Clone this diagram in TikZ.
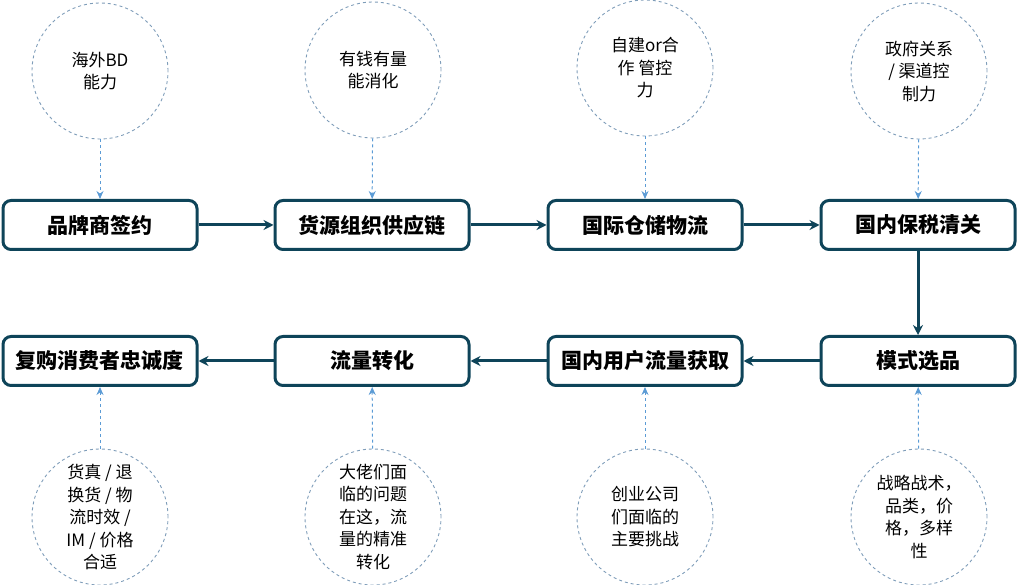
\documentclass[tikz,border=0pt]{standalone}
\usepackage{fontspec}
\setmainfont{Noto Sans CJK SC}
\usetikzlibrary{arrows.meta}
\definecolor{boxcol}{HTML}{0E4459}
\definecolor{circcol}{HTML}{7F9DB9}
\definecolor{dashcol}{HTML}{5B9BD5}
\begin{document}
\begin{tikzpicture}[x=1pt,y=-1pt,
  stepbox/.style={draw=boxcol,line width=3pt,rounded corners=8pt,minimum width=194pt,minimum height=49pt,inner sep=0pt,font=\fontsize{21}{24}\selectfont\bfseries,fill=white},
  idea/.style={draw=circcol,dashed,line width=0.9pt,circle,minimum size=136pt,inner sep=0pt,align=center,font=\fontsize{17}{22.5}\selectfont},
  flow/.style={draw=boxcol,line width=3pt,-{Stealth[length=10pt,width=10pt]}},
  hint/.style={draw=dashcol,dashed,line width=1pt,-{Stealth[length=8pt,width=7pt]}}]
\useasboundingbox (0,0) rectangle (1018,585);
\node[stepbox] (b1) at (100,225) {品牌商签约};
\node[stepbox] (b2) at (372,225) {货源组织供应链};
\node[stepbox] (b3) at (645,225) {国际仓储物流};
\node[stepbox] (b4) at (918,225) {国内保税清关};
\node[stepbox] (b5) at (918,361) {模式选品};
\node[stepbox] (b6) at (645,361) {国内用户流量获取};
\node[stepbox] (b7) at (372,361) {流量转化};
\node[stepbox] (b8) at (100,361) {复购消费者忠诚度};
\node[idea] (c1) at (100,71) {海外BD\\能力};
\node[idea] (c2) at (373,70) {有钱有量\\能消化};
\node[idea] (c3) at (645,68) {自建or合\\作 管控\\力};
\node[idea] (c4) at (919,71) {政府关系\\/ 渠道控\\制力};
\node[idea] (c8) at (100,517) {货真 / 退\\换货 / 物\\流时效 /\\IM / 价格\\合适};
\node[idea] (c7) at (373,517) {大佬们面\\临的问题\\在这，流\\量的精准\\转化};
\node[idea] (c6) at (645,517) {创业公司\\们面临的\\主要挑战};
\node[idea] (c5) at (919,517) {战略战术，\\品类，价\\格，多样\\性};
\draw[flow] (b1) -- (b2);
\draw[flow] (b2) -- (b3);
\draw[flow] (b3) -- (b4);
\draw[flow] (b4) -- (b5);
\draw[flow] (b5) -- (b6);
\draw[flow] (b6) -- (b7);
\draw[flow] (b7) -- (b8);
\draw[hint] (c1) -- (b1);
\draw[hint] (c2) -- (b2);
\draw[hint] (c3) -- (b3);
\draw[hint] (c4) -- (b4);
\draw[hint] (c5) -- (b5);
\draw[hint] (c6) -- (b6);
\draw[hint] (c7) -- (b7);
\draw[hint] (c8) -- (b8);
\end{tikzpicture}
\end{document}
